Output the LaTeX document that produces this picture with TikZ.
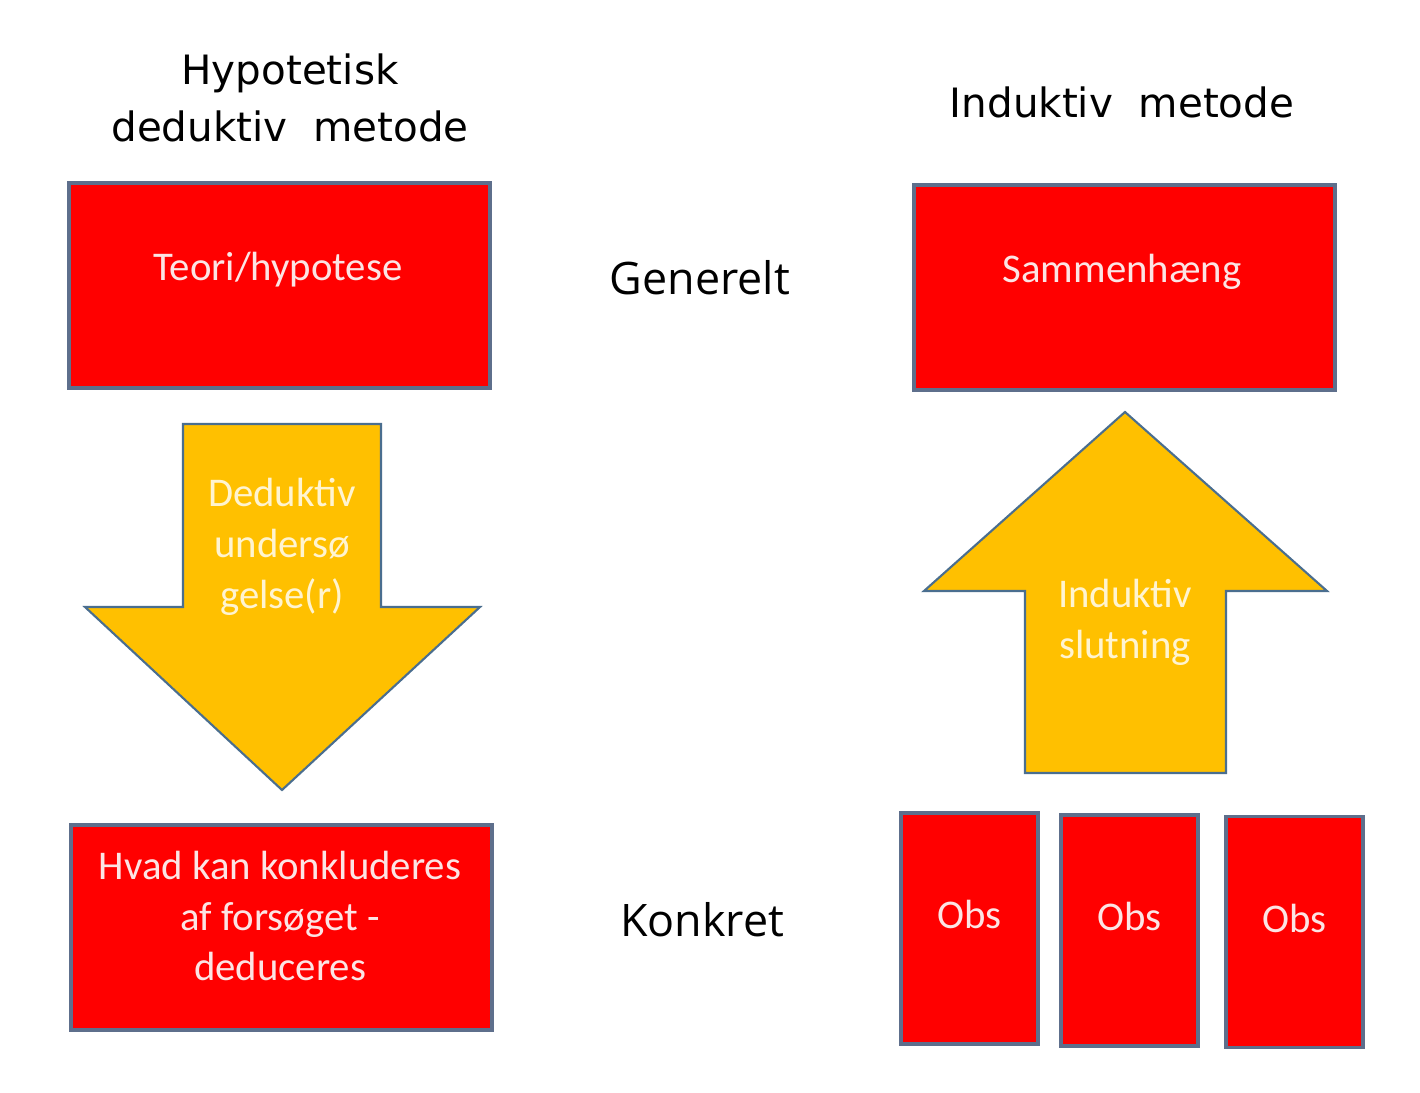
\documentclass[tikz,border=0pt]{standalone}
\usepackage{fontspec}
\setmainfont{Carlito}
\newfontfamily\titlefont{DejaVu Sans}
\newfontfamily\sidefont{Open Sans}
\definecolor{boxred}{HTML}{FF0000}
\definecolor{boxline}{HTML}{5E6F8C}
\definecolor{arrowfill}{HTML}{FFC000}
\definecolor{arrowline}{HTML}{4A6E8F}
\definecolor{redtext}{HTML}{FCE4E4}
\definecolor{yellowtext}{HTML}{FFF4D0}
\begin{document}
\begin{tikzpicture}[
    x=0.2mm, y=-0.2mm,
    redbox/.style={
       rectangle, draw=boxline, fill=boxred,
       line width=1.9pt, inner sep=0pt,
       minimum width=84.2mm, minimum height=41mm
        },
    obsbox/.style={redbox, minimum width=27.4mm, minimum height=46.2mm},
    boxtext/.style={
       text=redtext, align=center,
       font=\fontsize{23.2}{29}\selectfont
        },
    arrowtext/.style={boxtext, text=yellowtext},
    arrowshape/.style={draw=arrowline, fill=arrowfill, line width=1.2pt, line join=miter},
    titletext/.style={align=center, font=\titlefont\fontsize{23}{32.4}\selectfont},
    sidetext/.style={font=\sidefont\fontsize{25.5}{30}\selectfont}]

\useasboundingbox [fill=white] (0,0) rectangle (1420,1093);

% headings
\node [titletext] (title-ded) at (290,98) {Hypotetisk\\deduktiv\ \ metode};
\node [titletext] (title-ind) at (1122,102) {Induktiv\ \ metode};
\node [sidetext] (generelt) at (700,278) {Generelt};
\node [sidetext] (konkret) at (702,920) {Konkret};

% left column
\node [redbox] (teori) at (279.5,285.5) {};
\node [boxtext] (teori-t) at (278,270) {Teori/hypotese};
\draw [arrowshape] (183,424) -- (381,424) -- (381,607) -- (480,607)
   -- (282,790) -- (85,607) -- (183,607) -- cycle;
\node [arrowtext] (deduktiv) at (282,547) {Deduktiv\\undersø\\gelse(r)};
\node [redbox] (konklusion) at (281.5,927.5) {};
\node [boxtext] (konklusion-t) at (280,916) {Hvad kan konkluderes\\af forsøget -\\deduceres};

% right column
\node [redbox] (sammenhaeng) at (1124.5,287.5) {};
\node [boxtext] (sammenhaeng-t) at (1122,272) {Sammenhæng};
\draw [arrowshape] (1125,412) -- (1327,591) -- (1226,591) -- (1226,773)
   -- (1025,773) -- (1025,591) -- (924,591) -- cycle;
\node [arrowtext] (induktiv) at (1125,622) {Induktiv\\slutning};
\foreach [count=\j] \x/\y in {969.5/928.5, 1129.5/930.5, 1294.5/932} {
   \node [obsbox] (obs-\j) at (\x,\y) {};
   \node [boxtext] (obs-\j-t) at (\x,\y-14) {Obs};
  }
\end{tikzpicture}
\end{document}
